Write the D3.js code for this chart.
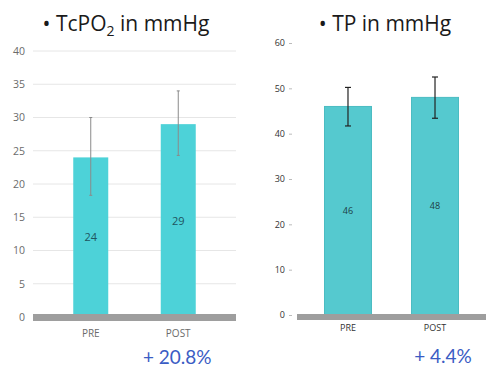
<!DOCTYPE html>
<html>
<head>
<meta charset="utf-8">
<script src="https://cdn.jsdelivr.net/npm/d3@7"></script>
<style>
  body { margin: 0; background: #fff; }
  svg { display: block; }
</style>
</head>
<body>
<div id="chart"></div>
<script>
// data ------------------
const categories = ['PRE', 'POST']

const tcpo2Values = [24, 29]
const tcpo2Low = [18.3, 24.3]
const tcpo2High = [30, 34]
const tcpo2Ticks = [0, 5, 10, 15, 20, 25, 30, 35, 40]

const tpValues = [46, 48]
const tpLow = [41.7, 43.4]
const tpHigh = [50.2, 52.5]
const tpTicks = [0, 10, 20, 30, 40, 50, 60]

const changes = ['+ 20.8%', '+ 4.4%']

// config ------------------
const w = 500
const h = 375

const svg = d3.select('#chart')
    .append('svg')
    .attr('width', w)
    .attr('height', h)
    .attr('viewBox', '0 0 ' + w + ' ' + h)

function rows(values, low, high) {
    return categories.map((c, i) => ({ name: c, value: values[i], low: low[i], high: high[i] }))
}

// left panel: TcPO2 ---------------------
{
    const ds = rows(tcpo2Values, tcpo2Low, tcpo2High)
    const x = d3.scaleBand().domain(categories).range([33, 236]).paddingInner(0.6).paddingOuter(0.46)
    const y = d3.scaleLinear().domain([0, 40]).range([317, 51])
    const g = svg.append('g')

    // gridlines
    g.selectAll('line.grid')
        .data(tcpo2Ticks.filter(t => t > 0))
        .join('line')
        .attr('x1', 33).attr('x2', 236)
        .attr('y1', d => y(d)).attr('y2', d => y(d))
        .attr('stroke', '#e6e6e6')

    // y labels
    const yAxis = d3.axisLeft(y).tickValues(tcpo2Ticks).tickSize(0).tickPadding(0)
    g.append('g')
        .attr('transform', 'translate(25,0)')
        .call(yAxis)
        .call(a => a.select('.domain').remove())
        .selectAll('text')
        .attr('fill', '#6b6b6b')
        .attr('font-family', 'Open Sans')
        .attr('font-size', 10.5)

    // bars
    g.selectAll('rect.bar')
        .data(ds)
        .join('rect')
        .attr('x', d => x(d.name))
        .attr('width', x.bandwidth())
        .attr('y', d => y(d.value))
        .attr('height', d => y(0) - y(d.value))
        .attr('fill', '#4dd2d8')

    // baseline
    g.append('rect')
        .attr('x', 33).attr('width', 203)
        .attr('y', y(0) - 3).attr('height', 7)
        .attr('fill', '#9e9e9e')

    // error bars
    g.selectAll('line.err')
        .data(ds)
        .join('line')
        .attr('x1', d => x(d.name) + x.bandwidth() / 2)
        .attr('x2', d => x(d.name) + x.bandwidth() / 2)
        .attr('y1', d => y(d.low))
        .attr('y2', d => y(d.high))
        .attr('stroke', '#8a8a8a')
        .attr('stroke-width', 1)
    g.selectAll('path.cap')
        .data(ds.flatMap(d => [[d.name, d.low], [d.name, d.high]]))
        .join('line')
        .attr('x1', d => x(d[0]) + x.bandwidth() / 2 - 1.5)
        .attr('x2', d => x(d[0]) + x.bandwidth() / 2 + 1.5)
        .attr('y1', d => y(d[1])).attr('y2', d => y(d[1]))
        .attr('stroke', '#8a8a8a')

    // value labels
    g.selectAll('text.val')
        .data(ds)
        .join('text')
        .attr('x', d => x(d.name) + x.bandwidth() / 2)
        .attr('y', d => (y(d.value) + y(0)) / 2 + 4)
        .attr('text-anchor', 'middle')
        .attr('font-family', 'Open Sans')
        .attr('font-size', 11)
        .attr('fill', '#1f5560')
        .text(d => d.value)

    // x labels
    g.selectAll('text.cat')
        .data(categories)
        .join('text')
        .attr('x', d => x(d) + x.bandwidth() / 2)
        .attr('y', 337)
        .attr('text-anchor', 'middle')
        .attr('font-family', 'Open Sans')
        .attr('font-size', 10)
        .attr('fill', '#6b6b6b')
        .text(d => d)

    // title
    const t = g.append('text')
        .attr('x', 126).attr('y', 31)
        .attr('text-anchor', 'middle')
        .attr('font-family', 'Open Sans')
        .attr('font-size', 21)
        .attr('fill', '#1a1a1a')
    t.append('tspan').text('• TcPO')
    t.append('tspan').attr('font-size', 14).attr('dy', 5).text('2')
    t.append('tspan').attr('dy', -5).text(' in mmHg')

    // change
    g.append('text')
        .attr('x', x('POST') + x.bandwidth() / 2 - 1)
        .attr('y', 364)
        .attr('text-anchor', 'middle')
        .attr('font-family', 'Lato')
        .attr('font-size', 19)
        .attr('fill', '#3a5cc4')
        .text(changes[0])
}

// right panel: TP ---------------------
{
    const ds = rows(tpValues, tpLow, tpHigh)
    const x = d3.scaleBand().domain(categories).range([297, 486]).paddingInner(0.46).paddingOuter(0.316)
    const y = d3.scaleLinear().domain([0, 60]).range([315, 43])
    const g = svg.append('g')

    // y axis with small ticks
    const yAxis = d3.axisLeft(y).tickValues(tpTicks).tickSize(3).tickPadding(4)
    g.append('g')
        .attr('transform', 'translate(292,0)')
        .call(yAxis)
        .call(a => a.select('.domain').remove())
        .call(a => a.selectAll('line').attr('stroke', '#bbb'))
        .selectAll('text')
        .attr('fill', '#333')
        .attr('font-family', 'Open Sans')
        .attr('font-size', 9)

    // bars
    g.selectAll('rect.bar')
        .data(ds)
        .join('rect')
        .attr('x', d => x(d.name))
        .attr('width', x.bandwidth())
        .attr('y', d => y(d.value))
        .attr('height', d => y(0) - y(d.value))
        .attr('fill', '#55c9cf')
        .attr('stroke', '#4bbcc2')
        .attr('stroke-width', 1)

    // baseline
    g.append('rect')
        .attr('x', 297).attr('width', 189)
        .attr('y', y(0) - 1).attr('height', 6)
        .attr('fill', '#9e9e9e')

    // error bars
    g.selectAll('line.err')
        .data(ds)
        .join('line')
        .attr('x1', d => x(d.name) + x.bandwidth() / 2)
        .attr('x2', d => x(d.name) + x.bandwidth() / 2)
        .attr('y1', d => y(d.low))
        .attr('y2', d => y(d.high))
        .attr('stroke', '#222')
        .attr('stroke-width', 1.2)
    g.selectAll('line.cap')
        .data(ds.flatMap(d => [[d.name, d.low], [d.name, d.high]]))
        .join('line')
        .attr('x1', d => x(d[0]) + x.bandwidth() / 2 - 3)
        .attr('x2', d => x(d[0]) + x.bandwidth() / 2 + 3)
        .attr('y1', d => y(d[1])).attr('y2', d => y(d[1]))
        .attr('stroke', '#222')
        .attr('stroke-width', 1.2)

    // value labels
    g.selectAll('text.val')
        .data(ds)
        .join('text')
        .attr('x', d => x(d.name) + x.bandwidth() / 2)
        .attr('y', d => (y(d.value) + y(0)) / 2 + 3)
        .attr('text-anchor', 'middle')
        .attr('font-family', 'Open Sans')
        .attr('font-size', 9)
        .attr('fill', '#1d3d44')
        .text(d => d.value)

    // x labels
    g.selectAll('text.cat')
        .data(categories)
        .join('text')
        .attr('x', d => x(d) + x.bandwidth() / 2)
        .attr('y', 331)
        .attr('text-anchor', 'middle')
        .attr('font-family', 'Open Sans')
        .attr('font-size', 9)
        .attr('fill', '#333')
        .text(d => d)

    // title
    g.append('text')
        .attr('x', 385).attr('y', 31)
        .attr('text-anchor', 'middle')
        .attr('font-family', 'Open Sans')
        .attr('font-size', 21)
        .attr('fill', '#1a1a1a')
        .text('• TP in mmHg')

    // change
    g.append('text')
        .attr('x', x('POST') + x.bandwidth() / 2 + 8)
        .attr('y', 363)
        .attr('text-anchor', 'middle')
        .attr('font-family', 'Lato')
        .attr('font-size', 19)
        .attr('fill', '#3a5cc4')
        .text(changes[1])
}
</script>
</body>
</html>
